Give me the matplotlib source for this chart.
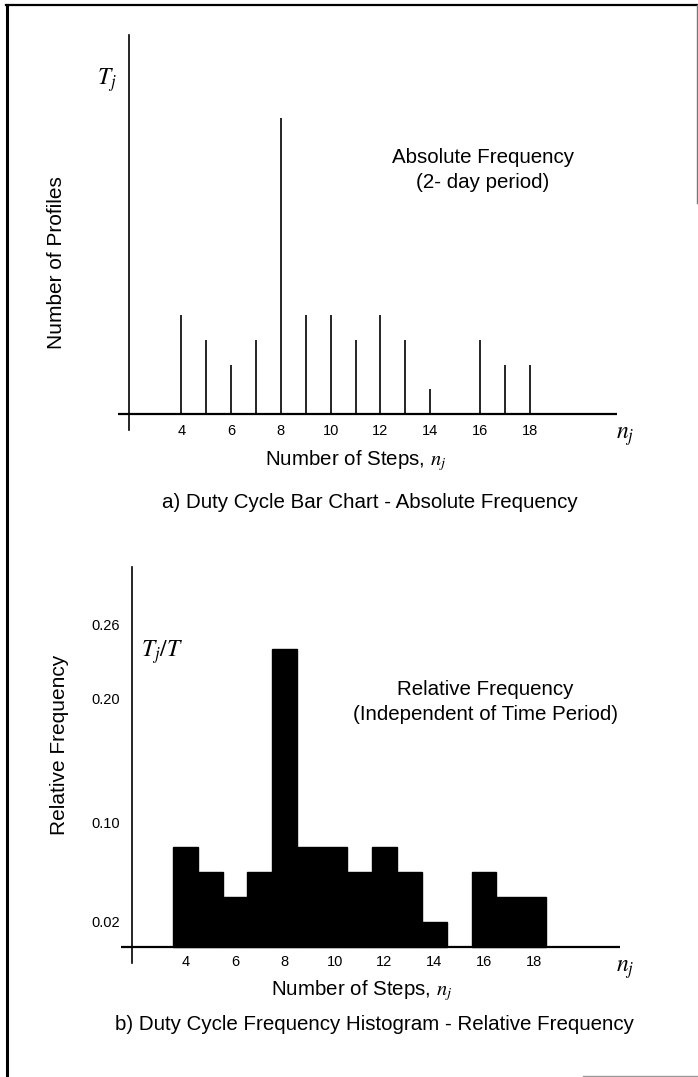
import numpy as np
import matplotlib
matplotlib.use('Agg')
import matplotlib.pyplot as plt
from matplotlib.lines import Line2D

plt.rcParams['font.family'] = ['Liberation Sans', 'DejaVu Sans']
plt.rcParams['mathtext.fontset'] = 'stix'

# data
steps      = [4, 5, 6, 7, 8, 9, 10, 11, 12, 13, 14, 16, 17, 18]
profiles   = [4, 3, 2, 3, 12, 4, 4, 3, 4, 3, 1, 3, 2, 2]
rel_freq   = [0.08, 0.06, 0.04, 0.06, 0.24, 0.08, 0.08, 0.06, 0.08, 0.06,
              0.02, 0.06, 0.04, 0.04]
xticks     = [4, 6, 8, 10, 12, 14, 16, 18]
yticks_rel = [0.02, 0.10, 0.20, 0.26]
yticklabels_rel = ['0.02', '0.10', '0.20', '0.26']

W, H = 698, 1077
fig = plt.figure(figsize=(W/100, H/100), dpi=100)

def px(x, y):
    return x/W, 1 - y/H

def box(l, t, r, b):
    return [l/W, 1 - b/H, (r - l)/W, (b - t)/H]

# ---- a) bar chart
ax1 = fig.add_axes(box(118, 35, 617, 420))
ax1.vlines(steps, 0, profiles, colors='black', lw=1.2)
ax1.set_xlim(1.46, 21.5)
ax1.set_ylim(-0.243, 15.34)
ax1.axhline(0, color='black', lw=1.6)
ax1.plot([1.92, 1.92], [-0.65, 15.34], color='black', lw=1.2, clip_on=False)
for s in ax1.spines.values():
    s.set_visible(False)
ax1.set_xticks(xticks)
ax1.set_yticks([])
ax1.tick_params(axis='x', length=0, pad=3, labelsize=10.5)

# ---- b) histogram
ax2 = fig.add_axes(box(121, 567, 620, 951))
ax2.bar(steps, rel_freq, width=1.0, color='black', edgecolor='black', lw=1.0)
ax2.set_xlim(1.42, 21.46)
ax2.set_ylim(-0.0036, 0.306)
ax2.axhline(0, color='black', lw=1.6)
ax2.plot([1.87, 1.87], [-0.0133, 0.306], color='black', lw=1.2, clip_on=False)
for s in ax2.spines.values():
    s.set_visible(False)
ax2.set_xticks(xticks)
ax2.set_yticks(yticks_rel)
ax2.set_yticklabels(yticklabels_rel)
ax2.tick_params(axis='x', length=0, pad=3, labelsize=10.5)
ax2.tick_params(axis='y', length=0, pad=1, labelsize=10.5)

# ---- texts
txt = dict(ha='center', va='center', fontsize=14.8)
fig.text(*px(57, 263), 'Number of Profiles', rotation=90, ha='center', va='center', fontsize=15)
fig.text(*px(107, 80), '$T_j$', ha='center', va='center', fontsize=17)
fig.text(*px(483, 170), 'Absolute Frequency\n(2- day period)', linespacing=1.4, **txt)
fig.text(*px(625, 437), '$n_j$', ha='center', va='center', fontsize=17)
fig.text(*px(356, 461), 'Number of Steps, $n_j$', **txt)
fig.text(*px(370, 502), 'a) Duty Cycle Bar Chart - Absolute Frequency', **txt)

fig.text(*px(60, 745), 'Relative Frequency', rotation=90, ha='center', va='center', fontsize=15)
fig.text(*px(162, 652), '$T_j/T$', ha='center', va='center', fontsize=17)
fig.text(*px(485, 702), 'Relative Frequency\n(Independent of Time Period)', linespacing=1.4, **txt)
fig.text(*px(625, 970), '$n_j$', ha='center', va='center', fontsize=17)
fig.text(*px(362, 991), 'Number of Steps, $n_j$', **txt)
fig.text(*px(374, 1025), 'b) Duty Cycle Frequency Histogram - Relative Frequency', **txt)

# ---- page frame
def fline(x0, y0, x1, y1, lw, c='black'):
    a, b = px(x0, y0)
    c0, d = px(x1, y1)
    fig.add_artist(Line2D([a, c0], [b, d], color=c, lw=lw))

fline(7, 5, 7, 1077, 2.2)
fline(6, 5, 698, 5, 1.6)
fline(697, 5, 697, 203, 1.0, '#777777')
fline(583, 1076, 698, 1076, 1.0, '#999999')

fig.savefig('out.png', dpi=100)
